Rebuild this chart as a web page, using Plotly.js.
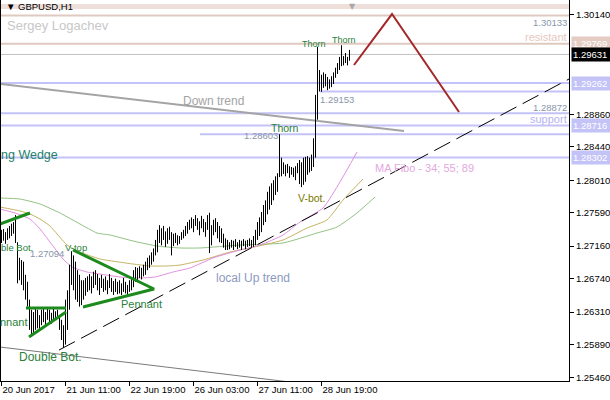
<!DOCTYPE html>
<html><head><meta charset="utf-8">
<script src="https://cdn.plot.ly/plotly-3.0.1.min.js"></script>
<style>html,body{margin:0;padding:0;background:#fff;}#chart{width:610px;height:400px;}</style>
</head><body><div id="chart"></div>
<script>
// ---- data (GBPUSD H1, one entry per bar) ----
const barHigh = [
1.2737,1.2738,1.2734,1.2739,1.2742,1.2745,1.2747,1.2756,1.2721,1.2701,
1.2698,1.2696,1.2679,1.2670,1.2647,1.2634,1.2631,1.2636,1.2634,1.2627,
1.2634,1.2636,1.2631,1.2636,1.2634,1.2630,1.2635,1.2632,1.2634,1.2627,
1.2621,1.2614,1.2647,1.2659,1.2692,1.27094,1.2704,1.2696,1.2685,1.2679,
1.2672,1.2672,1.2675,1.2677,1.2680,1.2677,1.2683,1.2685,1.2680,1.2675,
1.2679,1.2674,1.2677,1.2672,1.2680,1.2675,1.2671,1.2674,1.2670,1.2672,
1.2668,1.2675,1.2670,1.2666,1.2672,1.2675,1.2685,1.2689,1.2688,1.2690,
1.2688,1.2692,1.2696,1.2701,1.2704,1.2708,1.2713,1.2724,1.2737,1.2743,
1.2739,1.2742,1.2735,1.2739,1.2741,1.2734,1.2732,1.2733,1.2730,1.2729,
1.2734,1.2737,1.2742,1.2747,1.2750,1.2753,1.2751,1.2756,1.2752,1.2748,
1.2755,1.2751,1.2747,1.2756,1.2759,1.2743,1.2750,1.2752,1.2747,1.2742,
1.2739,1.2732,1.2726,1.2724,1.2721,1.2724,1.2723,1.2725,1.2721,1.2724,
1.2723,1.2725,1.2723,1.2724,1.2726,1.2724,1.2729,1.2737,1.2747,1.2753,
1.2760,1.2769,1.2775,1.2786,1.2793,1.2797,1.2801,1.2806,1.2810,1.28603,
1.2830,1.2824,1.2821,1.2822,1.2819,1.2818,1.2817,1.2819,1.2823,1.2827,
1.2824,1.2830,1.2831,1.2832,1.2830,1.2834,1.2855,1.2911,1.2973,1.2943,
1.2937,1.2940,1.2938,1.2934,1.2931,1.2935,1.2940,1.2946,1.2952,1.2960,
1.2975,1.2961,1.2965,1.2960,1.2969];
const barLow = [
1.2720,1.2723,1.2719,1.2724,1.2726,1.2729,1.2732,1.2720,1.2668,1.2672,
1.2666,1.2659,1.2647,1.2638,1.2608,1.2599,1.2604,1.2608,1.2610,1.2608,
1.2614,1.2618,1.2613,1.2621,1.2618,1.2616,1.2621,1.2623,1.2626,1.2608,
1.2595,1.2585,1.2589,1.2608,1.2634,1.2666,1.2659,1.2647,1.2644,1.2638,
1.2640,1.2647,1.2652,1.2657,1.2659,1.2655,1.2662,1.2666,1.2659,1.2653,
1.2662,1.2657,1.2659,1.2654,1.2662,1.2657,1.2653,1.2657,1.2654,1.2655,
1.2653,1.2657,1.2655,1.2653,1.2657,1.2659,1.2663,1.2670,1.2672,1.2675,
1.2673,1.2677,1.2679,1.2685,1.2688,1.2692,1.2696,1.2704,1.2708,1.2720,
1.2717,1.2724,1.2715,1.2719,1.2724,1.2704,1.2716,1.2720,1.2717,1.2719,
1.2724,1.2726,1.2729,1.2732,1.2737,1.2739,1.2734,1.2742,1.2737,1.2730,
1.2739,1.2734,1.2728,1.2737,1.2707,1.2717,1.2730,1.2734,1.2726,1.2721,
1.2720,1.2714,1.2711,1.2711,1.2712,1.2714,1.2711,1.2715,1.2712,1.2714,
1.2711,1.2716,1.2712,1.2715,1.2716,1.2714,1.2715,1.2717,1.2724,1.2729,
1.2734,1.2743,1.2747,1.2757,1.2763,1.2769,1.2775,1.2782,1.2786,1.2805,
1.2806,1.2809,1.2806,1.2810,1.2804,1.2808,1.2805,1.2801,1.2810,1.2796,
1.2792,1.2795,1.2799,1.2808,1.2811,1.2813,1.2818,1.2830,1.2879,1.29153,
1.2915,1.2920,1.2922,1.2917,1.2919,1.2921,1.2925,1.2933,1.2938,1.2943,
1.2948,1.2949,1.2952,1.2949,1.2955];

const tickIdx  = [0, 32, 64, 96, 128, 160];
const tickText = ['20 Jun 2017','21 Jun 11:00','22 Jun 19:00','26 Jun 03:00','27 Jun 11:00','28 Jun 19:00'];
const yTickVals = [1.30140,1.28860,1.28440,1.28010,1.27590,1.27160,1.26740,1.26310,1.25890,1.25460];
const yTickText = yTickVals.map(v => v.toFixed(5));

// MA Fibo 34 / 55 / 89 (read at points)
const ma34X = [-0.75,6.75,14.25,19.25,24.25,30.75,35.25,42.75,49.25,59.25,69.25,76.75,85.75,94.25,105.75,119.25,129.25,140.75,149.25,160.75,169.25,177.75];
const ma34Y = [1.27638,1.27587,1.27509,1.27381,1.27213,1.26994,1.26891,1.26826,1.26800,1.26762,1.26749,1.26762,1.26826,1.26878,1.27007,1.27110,1.27174,1.27303,1.27471,1.27651,1.27987,1.28373];
const ma55X = [-0.75,9.25,14.25,19.25,24.25,32.75,39.25,49.25,65.75,74.25,82.75,89.25,100.75,114.25,124.25,140.75,152.75,162.75,170.75,180.75];
const ma55Y = [1.27664,1.27613,1.27574,1.27509,1.27419,1.27174,1.27084,1.26994,1.26929,1.26904,1.26904,1.26916,1.26981,1.27084,1.27136,1.27239,1.27393,1.27497,1.27754,1.28025];
const ma89X = [-0.75,9.25,19.25,29.25,39.25,47.75,54.25,65.75,77.75,89.25,99.25,119.25,140.75,157.75,167.75,177.75,186.75];
const ma89Y = [1.27780,1.27767,1.27703,1.27587,1.27445,1.27329,1.27303,1.27226,1.27161,1.27136,1.27136,1.27174,1.27200,1.27329,1.27406,1.27587,1.27793];

// horizontal levels
const lvlPrice = [1.30133,1.29769,1.29631,1.29262,1.29153,1.28872,1.28716,1.28603,1.28302];
const lvlFrom  = [-0.75,-0.75,-0.75,-0.75,159.25,-0.75,-0.75,99.25,-0.75];

// drawn lines (bar index, price)
const downTrendX = [-0.75, 201.25], downTrendY = [1.29250, 1.28644];
const upTrendX = [28.75, 283.75],   upTrendY = [1.25820, 1.29314];
const lowLineX = [-0.75, 144.25],   lowLineY = [1.25859, 1.25408];
const targetX = [176.25, 195.25, 228.75], targetY = [1.29495, 1.30152, 1.28889];
const wedgeX = [-0.75, 14.25],  wedgeY = [1.27445, 1.27587];
const pen1TopX = [12.25, 32.25], pen1TopY = [1.26362, 1.26362];
const pen1BotX = [13.75, 32.25], pen1BotY = [1.25988, 1.26310];
const pen2X = [35.75, 76.25, 40.75], pen2Y = [1.27110, 1.26607, 1.26375];

// ---- build ----
const X0 = -0.25, X1 = 283.75, Y0 = 1.25421, Y1 = 1.30333;
const FONT = 'Liberation Sans, Arial, sans-serif';
const traces = [];
const lvlColor = ['#E0C9C1','#E0C9C1','#C0C0C0','#C3C3F7','#C3C3F7','#C3C3F7','#C3C3F7','#C3C3F7','#C3C3F7'];
const lvlWidth = [2,2,1,2,2,2,2,2,2];
lvlPrice.forEach((p,k)=>{
  traces.push({type:'scatter',mode:'lines',x:[lvlFrom[k],X1+1],y:[p,p],line:{color:lvlColor[k],width:lvlWidth[k]},hoverinfo:'skip'});
});
traces.push({type:'scatter',mode:'lines',x:lowLineX,y:lowLineY,line:{color:'#7A7A7A',width:1},hoverinfo:'skip'});
traces.push({type:'scatter',mode:'lines',x:ma89X,y:ma89Y,line:{color:'#92C283',width:1,shape:'spline',smoothing:0.5},hoverinfo:'skip'});
traces.push({type:'scatter',mode:'lines',x:ma55X,y:ma55Y,line:{color:'#C4B462',width:1,shape:'spline',smoothing:0.5},hoverinfo:'skip'});
traces.push({type:'scatter',mode:'lines',x:ma34X,y:ma34Y,line:{color:'#E28EE0',width:1,shape:'spline',smoothing:0.5},hoverinfo:'skip'});
traces.push({type:'scatter',mode:'lines',x:downTrendX,y:downTrendY,line:{color:'#A4A4A4',width:2},hoverinfo:'skip'});
const bx=[], by=[];
barHigh.forEach((h,i)=>{ bx.push(i,i,null); by.push(barLow[i],h,null); });
traces.push({type:'scatter',mode:'lines',x:bx,y:by,line:{color:'#000000',width:1},connectgaps:false,hoverinfo:'skip'});
const G = '#1C8A1C';
[[wedgeX,wedgeY],[pen1TopX,pen1TopY],[pen1BotX,pen1BotY],[pen2X,pen2Y]].forEach(([xx,yy])=>{
  traces.push({type:'scatter',mode:'lines',x:xx,y:yy,line:{color:G,width:3},hoverinfo:'skip'});
});
traces.push({type:'scatter',mode:'lines',x:upTrendX,y:upTrendY,line:{color:'#000000',width:1,dash:'18px,7px'},hoverinfo:'skip'});
traces.push({type:'scatter',mode:'lines',x:targetX,y:targetY,line:{color:'#A3282A',width:2},hoverinfo:'skip'});

const ann = [];
function txt(t,x,y,size,color,xa,xs){ ann.push({text:t,x:x,y:y,xref:'x',yref:'y',showarrow:false,xanchor:xa||'center',yanchor:'middle',xshift:xs||0,font:{family:FONT,size:size,color:color}}); }
const GT = '#2A7F3A', GREY = '#8A96AA';
txt('Thorn',156.25,1.29766,9,GT);
txt('Thorn',171.25,1.29817,9,GT);
txt('Thorn',141.75,1.28683,10.5,GT);
txt('1.28603',129.75,1.28592,9.5,GREY);
txt('1.29153',167.75,1.29044,9.5,GREY);
txt('1.30133',283.5,1.30049,9.5,GREY,'right');
txt('1.28872',283.5,1.28953,9.5,GREY,'right');
txt('1.27094',22.5,1.27060,9.5,GREY);
txt('resistant',283.5,1.29856,11,'#E6C8BE','right');
txt('support',283.5,1.28799,11,'#B4B4F0','right');
txt('Down trend',105.75,1.29031,12,'#A4A4A4');
txt('ng Wedge',-0.2,1.28335,12.5,'#24806A','left',-2);
txt('ble Bot.',-0.2,1.27136,9.5,GT,'left',-2);
txt('V-top',37.25,1.27136,9.5,GT);
txt('nnant',-0.2,1.26182,11,GT,'left',-3);
txt('Pennant',69.75,1.26414,11,GT);
txt('Double Bot.',24.5,1.25730,12,GT);
txt('V-bot.',154.75,1.27780,10.5,'#7A7A00');
txt('local Up trend',125.75,1.26749,12,'#8C9AC0');
txt('MA Fibo - 34; 55; 89',185.75,1.28167,11,'#E4A8E0','left');
txt('Sergey Logachev',1.5,1.29998,13,'#C8C8C8','left');
ann.push({text:'▼ GBPUSD,H1',xref:'paper',yref:'paper',x:0,y:1,xanchor:'left',yanchor:'top',xshift:3,yshift:1,showarrow:false,font:{family:FONT,size:9.5,color:'#000'}});
ann.push({text:'▼',xref:'x',yref:'paper',x:175.25,y:1,yanchor:'top',yshift:0,showarrow:false,font:{family:'DejaVu Sans',size:8,color:'#A8A8A8'}});
// price labels on the axis
const tagPrice = [1.29769,1.29631,1.29262,1.28716,1.28302];
const tagBg = ['#E4CCC4','#000000','#C3C3F7','#C3C3F7','#C3C3F7'];
tagPrice.forEach((p,k)=>{
  ann.push({text:p.toFixed(5),xref:'paper',yref:'y',x:1,y:p,xanchor:'left',yanchor:'middle',xshift:2,showarrow:false,
    bgcolor:tagBg[k],borderpad:1,width:37,align:'left',font:{family:FONT,size:9.5,color:'#FFFFFF'}});
});

const layout = {
  width:610,height:400,margin:{l:1,r:41,t:0,b:19},
  paper_bgcolor:'#fff',plot_bgcolor:'#fff',showlegend:false,
  xaxis:{range:[X0,X1],showgrid:false,zeroline:false,showline:true,linecolor:'#000',linewidth:1,
    ticks:'outside',ticklen:4,tickcolor:'#000',tickvals:tickIdx,ticktext:tickText,
    ticklabelposition:'outside right',tickfont:{family:FONT,size:9.5,color:'#000'}},
  yaxis:{range:[Y0,Y1],side:'right',showgrid:false,zeroline:false,showline:true,mirror:true,linecolor:'#000',linewidth:1,
    ticks:'outside',ticklen:4,tickcolor:'#000',tickvals:yTickVals,ticktext:yTickText,
    tickfont:{family:FONT,size:9.5,color:'#000'}},
  shapes:[{type:'rect',xref:'paper',yref:'y',x0:0,x1:1,y0:1.30217,y1:1.30281,fillcolor:'#EFDFDB',line:{width:0},layer:'below'}],
  annotations:ann
};
Plotly.newPlot('chart',traces,layout,{staticPlot:true,displayModeBar:false});
</script></body></html>
